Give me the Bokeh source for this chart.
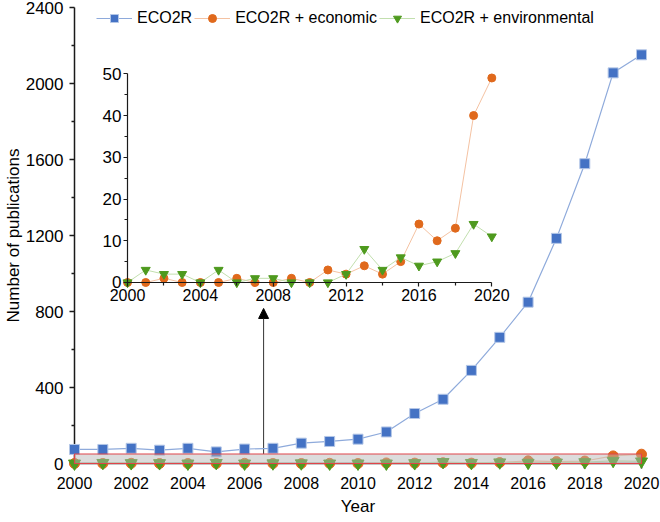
from bokeh.plotting import figure
from bokeh.models import (Range1d, LinearAxis, FixedTicker, Legend, LegendItem,
                          Arrow, NormalHead, ColumnDataSource)
from bokeh.embed import file_html
from bokeh.resources import INLINE

# ---------------- data ----------------
years = list(range(2000, 2021))
eco2r = [74, 74, 80, 70, 80, 61, 76, 80, 107, 116, 128, 166, 263, 338, 490,
         664, 849, 1185, 1578, 2056, 2151]
economic = [0, 0, 1, 0, 0, 0, 1, 0, 0, 1, 0, 3, 2, 4, 2, 5, 14, 10, 13, 40, 49]
environmental = [0, 3, 2, 2, 0, 3, 0, 1, 1, 0, 0, 0, 2, 8, 3, 6, 4, 5, 7, 14, 11]
series_names = ["ECO2R", "ECO2R + economic", "ECO2R + environmental"]

main_x_ticks = [2000, 2002, 2004, 2006, 2008, 2010, 2012, 2014, 2016, 2018, 2020]
main_y_ticks = [0, 400, 800, 1200, 1600, 2000, 2400]
inset_x_ticks = [2000, 2004, 2008, 2012, 2016, 2020]
inset_y_ticks = [0, 10, 20, 30, 40, 50]

# ---------------- style / layout ----------------
FONT = "Liberation Sans"
BLUE, BLUE_LINE, BLUE_EDGE = "#4472c4", "#8eaadb", "#b4c7e7"
ORANGE, ORANGE_LINE = "#e0691c", "#f4c2a2"
GREEN, GREEN_LINE = "#4e9a1e", "#c2dfae"
AXIS = "#1a1a1a"

W, H = 660, 522
TOP, BOTTOM, RIGHT = 7, 59, 19

# where the inset sits, in main-chart data units
INSET_X0, INSET_X1 = 2001.87, 2014.72
INSET_Y0, INSET_Y1 = 952.7, 2051.0
ARROW_X, ARROW_Y_END = 2006.67, 816

p = figure(width=W, height=H, output_backend="svg", toolbar_location=None,
           x_range=Range1d(years[0], years[-1]),
           y_range=Range1d(main_y_ticks[0], main_y_ticks[-1]),
           min_border_top=TOP, min_border_bottom=BOTTOM,
           min_border_right=RIGHT, min_border_left=0)
p.outline_line_color = None
p.xgrid.grid_line_color = None
p.ygrid.grid_line_color = None
p.background_fill_color = "white"
p.border_fill_color = "white"


def style_axis(ax, label_size, standoff, tick_out=5, minor_out=3, width=1.5):
    ax.axis_line_color = AXIS
    ax.axis_line_width = width
    ax.major_tick_line_color = AXIS
    ax.major_tick_line_width = width
    ax.minor_tick_line_color = AXIS
    ax.minor_tick_line_width = width
    ax.major_tick_in = 0
    ax.major_tick_out = tick_out
    ax.minor_tick_in = 0
    ax.minor_tick_out = minor_out
    ax.major_label_text_font = FONT
    ax.major_label_text_font_size = label_size
    ax.major_label_text_color = "black"
    ax.major_label_standoff = standoff
    ax.axis_label_text_font = FONT
    ax.axis_label_text_font_size = "17px"
    ax.axis_label_text_font_style = "normal"
    ax.axis_label_text_color = "black"


xa = p.xaxis[0]
ya = p.yaxis[0]
xa.ticker = FixedTicker(ticks=main_x_ticks, minor_ticks=[])
ya.ticker = FixedTicker(ticks=main_y_ticks,
                        minor_ticks=[t + 200 for t in main_y_ticks[:-1]])
style_axis(xa, "16px", 8)
style_axis(ya, "17px", 6)
xa.axis_label = "Year"
xa.axis_label_standoff = 5
ya.axis_label = "Number of publications"
ya.axis_label_standoff = 0

src = ColumnDataSource(dict(year=years, eco2r=eco2r, economic=economic,
                            environmental=environmental))

# ---------------- main series ----------------
l1 = p.line("year", "eco2r", source=src, line_color=BLUE_LINE, line_width=1.2,
            level="overlay")
m1 = p.scatter("year", "eco2r", source=src, marker="square", size=10,
               fill_color=BLUE, line_color=BLUE_EDGE, line_width=1, level="overlay")
l2 = p.line("year", "economic", source=src, line_color=ORANGE_LINE, line_width=1.2,
            level="overlay")
m2 = p.scatter("year", "economic", source=src, marker="circle", size=10,
               fill_color=ORANGE, line_color=ORANGE, level="overlay")
l3 = p.line("year", "environmental", source=src, line_color=GREEN_LINE,
            line_width=1.2, level="overlay")
m3 = p.scatter("year", "environmental", source=src, marker="inverted_triangle",
               size=12, fill_color=GREEN, line_color=GREEN, level="overlay")

# shaded zoom band (range shown in the inset)
p.quad(left=[years[0]], right=[years[-1]], bottom=[inset_y_ticks[0]],
       top=[inset_y_ticks[-1]], fill_color="#b5b5b5", fill_alpha=0.48,
       line_color="#e0444a", line_width=1.2, level="overlay")

# ---------------- inset ----------------
sx = (inset_x_ticks[-1] - inset_x_ticks[0]) / (INSET_X1 - INSET_X0)
sy = (inset_y_ticks[-1] - inset_y_ticks[0]) / (INSET_Y1 - INSET_Y0)
p.extra_x_ranges = {"ix": Range1d(
    inset_x_ticks[0] - (INSET_X0 - years[0]) * sx,
    inset_x_ticks[-1] + (years[-1] - INSET_X1) * sx)}
p.extra_y_ranges = {"iy": Range1d(
    inset_y_ticks[0] - (INSET_Y0 - main_y_ticks[0]) * sy,
    inset_y_ticks[-1] + (main_y_ticks[-1] - INSET_Y1) * sy)}

iax = LinearAxis(x_range_name="ix", y_range_name="iy",
                 fixed_location=inset_y_ticks[0],
                 bounds=(inset_x_ticks[0], inset_x_ticks[-1]),
                 ticker=FixedTicker(ticks=inset_x_ticks,
                                    minor_ticks=[t + 2 for t in inset_x_ticks[:-1]]))
iay = LinearAxis(x_range_name="ix", y_range_name="iy",
                 fixed_location=inset_x_ticks[0],
                 bounds=(inset_y_ticks[0], inset_y_ticks[-1]),
                 ticker=FixedTicker(ticks=inset_y_ticks,
                                    minor_ticks=[t + 5 for t in inset_y_ticks[:-1]]))
style_axis(iax, "16px", 3, tick_out=4, minor_out=3, width=1.2)
style_axis(iay, "17px", 2, tick_out=4, minor_out=3, width=1.2)
p.add_layout(iax, "below")
p.add_layout(iay, "left")

p.line("year", "economic", source=src, x_range_name="ix", y_range_name="iy",
       line_color=ORANGE_LINE, line_width=1)
p.scatter("year", "economic", source=src, x_range_name="ix", y_range_name="iy",
          marker="circle", size=8, fill_color=ORANGE, line_color=ORANGE)
p.line("year", "environmental", source=src, x_range_name="ix", y_range_name="iy",
       line_color=GREEN_LINE, line_width=1)
p.scatter("year", "environmental", source=src, x_range_name="ix", y_range_name="iy",
          marker="inverted_triangle", size=9, fill_color=GREEN, line_color=GREEN)

# arrow from band to inset
p.add_layout(Arrow(x_start=ARROW_X, y_start=inset_y_ticks[-1], x_end=ARROW_X,
                   y_end=ARROW_Y_END, line_color="#333333", line_width=1,
                   end=NormalHead(size=10, fill_color="black", line_color="black")))

# ---------------- legend (location = bottom-left corner, px from frame bottom-left)
frame_h = H - TOP - BOTTOM
legend = Legend(items=[LegendItem(label=series_names[0], renderers=[l1, m1]),
                       LegendItem(label=series_names[1], renderers=[l2, m2]),
                       LegendItem(label=series_names[2], renderers=[l3, m3])],
                orientation="horizontal",
                location=(22, frame_h - 21),
                glyph_width=36, glyph_height=20, label_height=20,
                label_standoff=5, spacing=2, padding=0, margin=0,
                border_line_color=None, background_fill_alpha=0,
                label_text_font=FONT, label_text_font_size="16px",
                label_text_color="black")
p.add_layout(legend)

open("out.html", "w").write(file_html(p, INLINE))
